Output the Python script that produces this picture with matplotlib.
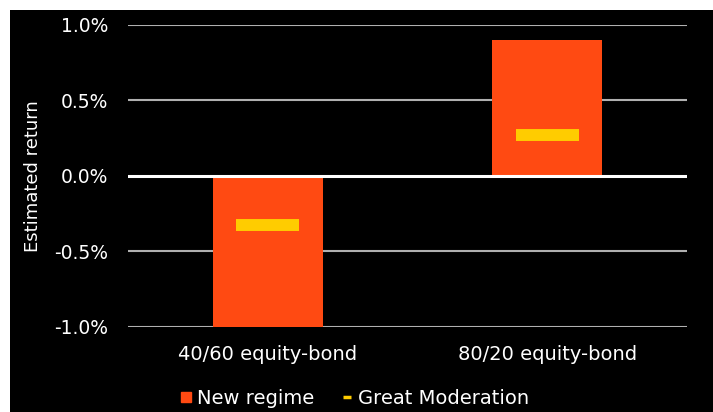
import matplotlib.pyplot as plt
from matplotlib.lines import Line2D
from matplotlib.patches import Rectangle

# Data
categories = ['40/60 equity-bond', '80/20 equity-bond']
new_regime = [-1.0, 0.9]
great_moderation = [-0.325, 0.27]
yticks = [-1.0, -0.5, 0.0, 0.5, 1.0]

orange = '#FF4A12'
yellow = '#FFCC00'

plt.rcParams['font.family'] = ['DejaVu Sans']

fig = plt.figure(figsize=(7.13, 4.12), dpi=100, facecolor='white')
# black panel with a thin white margin on the top and left
fig.patches.append(Rectangle((10 / 713, 0), 1, 402 / 412, transform=fig.transFigure,
                             facecolor='black', edgecolor='none', zorder=-5))

ax = fig.add_axes([128 / 713, 1 - 327 / 412, 559 / 713, 302.5 / 412])
ax.set_facecolor('black')

x = list(range(len(categories)))
ax.bar(x, new_regime, width=0.395, color=orange, zorder=3)
ax.hlines(great_moderation, [i - 0.113 for i in x], [i + 0.113 for i in x],
          colors=yellow, linewidth=8.6, zorder=4)

ax.set_xlim(-0.5, 1.5)
ax.set_ylim(-1.0, 1.0)
ax.set_yticks(yticks)
ax.set_yticklabels([f'{v:.1f}%' for v in yticks])
for v in yticks:
    if v == 0:
        ax.axhline(v, color='white', linewidth=2.2, zorder=5)
    else:
        ax.axhline(v, color='#b0b0b0', linewidth=1.5, zorder=1)

ax.set_xticks(x)
ax.set_xticklabels(categories, fontsize=14)
ax.tick_params(axis='both', length=0, colors='white')
ax.tick_params(axis='y', pad=14, labelsize=13.5)
ax.tick_params(axis='x', pad=13)
for s in ax.spines.values():
    s.set_visible(False)

ax.set_ylabel('Estimated return', color='white', fontsize=13)
ax.yaxis.set_label_coords(-(128 - 42) / 559, 0.5)

handles = [
    Line2D([], [], linestyle='none', marker='s', markersize=6.5, color=orange),
    Line2D([], [], linestyle='none', marker='_', markersize=6, markeredgewidth=2.5, color=yellow),
]
fig.legend(handles, ['New regime', 'Great Moderation'], loc='center',
           bbox_to_anchor=(355 / 713, 1 - 398 / 412), ncol=2, frameon=False,
           fontsize=14, labelcolor='white', handlelength=0.5, handletextpad=0.35,
           columnspacing=1.4)

fig.savefig('out.png', dpi=100, facecolor='white')
